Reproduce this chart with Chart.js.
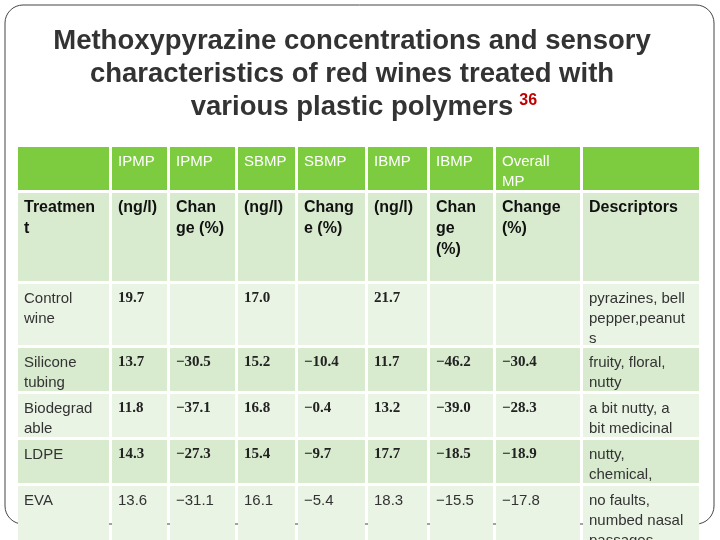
<!DOCTYPE html>
<html>
<head>
<meta charset="utf-8">
<script src="https://cdn.jsdelivr.net/npm/chart.js@4"></script>
<style>
  html, body { margin: 0; padding: 0; background: #fff; }
  #wrap { width: 720px; height: 540px; position: relative; }
</style>
</head>
<body>
<div id="wrap"><canvas id="c" width="720" height="540"></canvas></div>
<script>
// table content
const titleLines = [
  "Methoxypyrazine concentrations and sensory",
  "characteristics of red wines treated with",
  "various plastic polymers",
];
const titleRef = "36";
const headerTop = ["", "IPMP", "IPMP", "SBMP", "SBMP", "IBMP", "IBMP", "Overall\nMP", ""];
const headerSub = ["Treatmen\nt", "(ng/l)", "Chan\nge (%)", "(ng/l)", "Chang\ne (%)", "(ng/l)", "Chan\nge\n(%)", "Change\n(%)", "Descriptors"];
const treatments = ["Control\nwine", "Silicone\ntubing", "Biodegrad\nable", "LDPE", "EVA"];
const ipmp = ["19.7", "13.7", "11.8", "14.3", "13.6"];
const ipmpChange = ["", "\u221230.5", "\u221237.1", "\u221227.3", "\u221231.1"];
const sbmp = ["17.0", "15.2", "16.8", "15.4", "16.1"];
const sbmpChange = ["", "\u221210.4", "\u22120.4", "\u22129.7", "\u22125.4"];
const ibmp = ["21.7", "11.7", "13.2", "17.7", "18.3"];
const ibmpChange = ["", "\u221246.2", "\u221239.0", "\u221218.5", "\u221215.5"];
const overallChange = ["", "\u221230.4", "\u221228.3", "\u221218.9", "\u221217.8"];
const descriptors = [
  "pyrazines, bell\npepper,peanut\ns",
  "fruity, floral,\nnutty",
  "a bit nutty, a\nbit medicinal",
  "nutty,\nchemical,",
  "no faults,\nnumbed nasal\npassages",
];

// layout
const colEdges = [18, 112, 170, 238, 298, 368, 430, 496, 583, 702];
const rowEdges = [147, 193, 284, 348, 394, 440, 486, 545];
const rowFill = ["#7dcb3e", "#d8ebcf", "#eaf4e4", "#d8ebcf", "#eaf4e4", "#d8ebcf", "#eaf4e4"];

const bodyCols = [treatments, ipmp, ipmpChange, sbmp, sbmpChange, ibmp, ibmpChange, overallChange, descriptors];

const tablePlugin = {
  id: "table",
  afterDraw(chart) {
    const ctx = chart.ctx;
    const xs = chart.scales.x, ys = chart.scales.y;
    const px = v => xs.getPixelForValue(v);
    const py = v => ys.getPixelForValue(v);

    // slide frame
    ctx.save();
    ctx.strokeStyle = "#444";
    ctx.lineWidth = 1;
    ctx.beginPath();
    ctx.roundRect(px(5), py(5), px(714) - px(5), py(524) - py(5), 18);
    ctx.stroke();

    // title
    ctx.fillStyle = "#333";
    ctx.font = "bold 27.5px 'Liberation Sans', Arial, sans-serif";
    ctx.textAlign = "center";
    ctx.textBaseline = "middle";
    titleLines.forEach((t, i) => ctx.fillText(t, px(352), py(41 + i * 33)));
    const w3 = ctx.measureText(titleLines[2]).width;
    ctx.fillStyle = "#c00000";
    ctx.font = "bold 16px 'Liberation Sans', Arial, sans-serif";
    ctx.textAlign = "left";
    ctx.fillText(titleRef, px(352) + w3 / 2 + 6, py(101));

    // cells
    for (let r = 0; r < rowEdges.length - 1; r++) {
      for (let c = 0; c < colEdges.length - 1; c++) {
        const x0 = px(colEdges[c]), x1 = px(colEdges[c + 1]);
        const y0 = py(rowEdges[r]), y1 = py(rowEdges[r + 1]);
        ctx.fillStyle = rowFill[r];
        ctx.fillRect(x0, y0, x1 - x0 - 3, y1 - y0 - 3);

        let text, font, color, lh;
        if (r === 0) {
          text = headerTop[c]; font = "15px 'Liberation Sans', Arial, sans-serif"; color = "#fff"; lh = 20;
        } else if (r === 1) {
          text = headerSub[c]; font = "bold 16px 'Liberation Sans', Arial, sans-serif"; color = "#111"; lh = 21;
        } else {
          const i = r - 2;
          text = bodyCols[c][i];
          const numeric = c > 0 && c < 8;
          if (numeric && i < 4) {
            font = "bold 15px 'Liberation Serif', 'DejaVu Serif', serif"; color = "#222";
          } else {
            font = "15px 'Liberation Sans', Arial, sans-serif"; color = "#333";
          }
          lh = 20;
        }
        if (!text) continue;
        ctx.font = font;
        ctx.fillStyle = color;
        ctx.textBaseline = "top";
        ctx.textAlign = "left";
        ctx.save();
        ctx.beginPath();
        ctx.rect(x0, y0, x1 - x0, y1 - y0);
        ctx.clip();
        text.split("\n").forEach((ln, k) => ctx.fillText(ln, x0 + 6, y0 + 7 + k * lh));
        ctx.restore();
      }
    }
    ctx.restore();
  },
};

new Chart(document.getElementById("c"), {
  type: "scatter",
  data: { datasets: [{ data: [] }] },
  options: {
    responsive: false,
    animation: false,
    layout: { padding: 0 },
    plugins: { legend: { display: false }, tooltip: { enabled: false } },
    scales: {
      x: { type: "linear", min: 0, max: 720, display: false },
      y: { type: "linear", min: 0, max: 540, reverse: true, display: false },
    },
  },
  plugins: [tablePlugin],
});
</script>
</body>
</html>
